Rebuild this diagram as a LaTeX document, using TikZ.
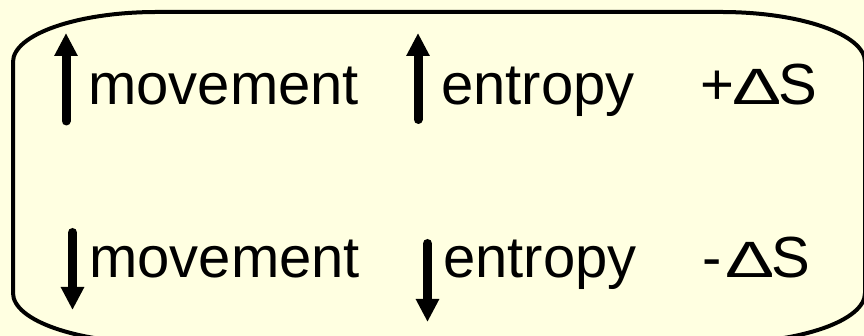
\documentclass[tikz,border=0pt]{standalone}
\usepackage{fontspec}
\usepackage{graphicx}
\setmainfont{Liberation Sans}
\usetikzlibrary{arrows.meta}
\definecolor{paper}{RGB}{255,255,225}
\newcommand{\wideDelta}{\scalebox{1.27}[0.88]{∆}\kern-1pt}
\tikzset{
  word/.style={anchor=base west, inner sep=0pt, font=\fontsize{58}{60}\selectfont},
  bigarrow/.style={line width=9pt, line cap=round,
    -{Triangle[width=22pt,length=23pt]}},
  frame/.style={line width=4pt}
}
\begin{document}
\begin{tikzpicture}[x=1pt,y=1pt]
  % page and background
  \fill[paper] (0,0) rectangle (864,336);
  \useasboundingbox (0,0) rectangle (864,336);

  % frame with elliptical corners
  \draw[frame] (13,43) -- (13,274)
    arc[start angle=180, end angle=90, x radius=144, y radius=50]
    -- (721,324)
    arc[start angle=90, end angle=0, x radius=144, y radius=50]
    -- (865,43)
    arc[start angle=0, end angle=-90, x radius=144, y radius=50]
    -- (157,-7)
    arc[start angle=270, end angle=180, x radius=144, y radius=50]
    -- cycle;

  % upper row
  \node[word] (mvUp) at (88,231) {movement};
  \node[word] (enUp) at (441,231) {entropy};
  \node[word] (dsUp) at (700,231) {+\wideDelta S};

  % lower row
  \node[word] (mvDn) at (89,58) {movement};
  \node[word] (enDn) at (443,58) {entropy};
  \node[word] (dsDn) at (702,58) {-\kern6pt\wideDelta S};

  % arrow end points
  \coordinate (mvUpTail) at (66,215);
  \coordinate (mvUpTip)  at (66,303);
  \coordinate (mvDnTail) at (72.5,103.5);
  \coordinate (mvDnTip)  at (72.5,26);
  \coordinate (enUpTail) at (418,216.5);
  \coordinate (enUpTip)  at (418,303);
  \coordinate (enDnTail) at (427.5,92.5);
  \coordinate (enDnTip)  at (427.5,14);

  \draw[bigarrow] (mvUpTail) -- (mvUpTip);
  \draw[bigarrow] (mvDnTail) -- (mvDnTip);
  \draw[bigarrow] (enUpTail) -- (enUpTip);
  \draw[bigarrow] (enDnTail) -- (enDnTip);
\end{tikzpicture}
\end{document}
